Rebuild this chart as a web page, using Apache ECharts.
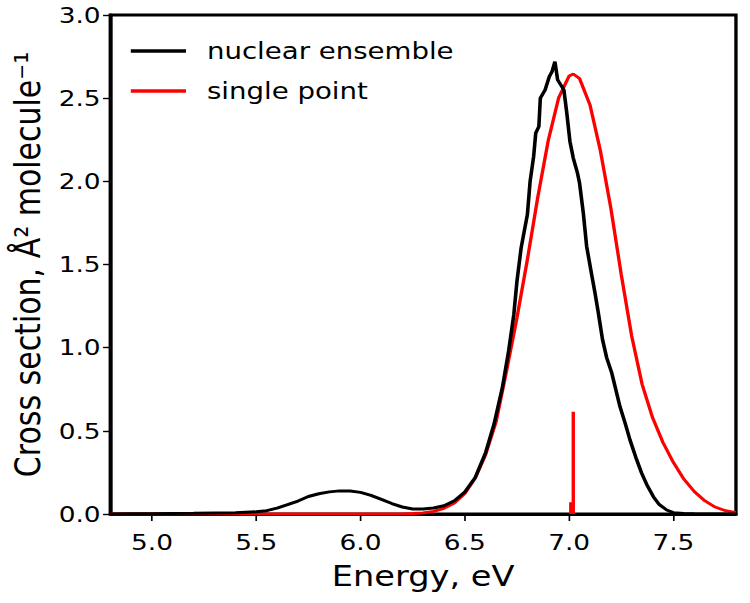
<!DOCTYPE html>
<html>
<head>
<meta charset="utf-8">
<script src="https://cdn.jsdelivr.net/npm/echarts@6/dist/echarts.min.js"></script>
<style>
html,body{margin:0;padding:0;background:#fff;overflow:hidden;}
#wrap{width:750px;height:603px;overflow:hidden;}
#chart{width:625px;height:603px;transform:scaleX(1.2);transform-origin:0 0;}
</style>
</head>
<body>
<div id="wrap"><div id="chart"></div></div>
<script>
// Tick labels
const energyTicks = [5.0, 5.5, 6.0, 6.5, 7.0, 7.5];
const csTicks = [0.0, 0.5, 1.0, 1.5, 2.0, 2.5, 3.0];

// nuclear ensemble spectrum (energy eV, cross section)
const ensembleE = [4.80, 4.90, 5.00, 5.10, 5.20, 5.30, 5.40, 5.50, 5.55, 5.60, 5.65, 5.70, 5.75, 5.80, 5.85, 5.90, 5.95, 6.00, 6.05, 6.10, 6.15, 6.20, 6.25, 6.30, 6.35, 6.40, 6.45, 6.50, 6.55, 6.60, 6.64, 6.68, 6.71, 6.735, 6.75, 6.77, 6.80, 6.813, 6.83, 6.84, 6.855, 6.862, 6.885, 6.905, 6.918, 6.932, 6.945, 6.96, 6.975, 6.988, 7.004, 7.02, 7.04, 7.05, 7.068, 7.084, 7.108, 7.124, 7.14, 7.16, 7.18, 7.204, 7.244, 7.27, 7.292, 7.32, 7.348, 7.375, 7.404, 7.43, 7.468, 7.50, 7.55, 7.60, 7.70, 7.80];
const ensembleCS = [0.000, 0.001, 0.002, 0.003, 0.004, 0.006, 0.008, 0.013, 0.020, 0.035, 0.056, 0.078, 0.105, 0.122, 0.133, 0.139, 0.138, 0.130, 0.112, 0.088, 0.063, 0.042, 0.030, 0.030, 0.036, 0.050, 0.080, 0.132, 0.220, 0.370, 0.540, 0.760, 0.980, 1.200, 1.400, 1.600, 1.800, 2.000, 2.150, 2.290, 2.330, 2.500, 2.550, 2.630, 2.660, 2.720, 2.610, 2.580, 2.550, 2.420, 2.240, 2.140, 2.050, 1.990, 1.810, 1.610, 1.440, 1.330, 1.210, 1.050, 0.940, 0.850, 0.645, 0.540, 0.445, 0.340, 0.245, 0.170, 0.104, 0.060, 0.024, 0.008, 0.003, 0.001, 0.000, 0.000];

// single point spectrum
const pointE = [4.80, 5.50, 6.00, 6.20, 6.25, 6.30, 6.35, 6.40, 6.45, 6.50, 6.55, 6.60, 6.65, 6.70, 6.75, 6.80, 6.85, 6.90, 6.95, 7.00, 7.02, 7.05, 7.10, 7.15, 7.20, 7.25, 7.30, 7.35, 7.40, 7.45, 7.50, 7.55, 7.60, 7.65, 7.70, 7.75, 7.80];
const pointCS = [0, 0, 0, 0.001, 0.003, 0.007, 0.016, 0.034, 0.066, 0.123, 0.216, 0.358, 0.555, 0.860, 1.180, 1.530, 1.906, 2.246, 2.502, 2.633, 2.645, 2.618, 2.460, 2.184, 1.840, 1.440, 1.070, 0.780, 0.580, 0.430, 0.310, 0.210, 0.135, 0.080, 0.042, 0.020, 0.008];

// single point stick transitions
const stickE = [7.008, 7.020];
const stickCS = [0.07, 0.615];

const FONT = 'DejaVu Sans';
const toPairs = (xs, ys) => xs.map((x, i) => [x, ys[i]]);

const stickSeries = stickE.map((e, i) => ({
  type: 'line',
  name: 'stick' + i,
  data: [[e, 0], [e, stickCS[i]]],
  showSymbol: false,
  symbol: 'none',
  lineStyle: { color: '#ff0000', width: 2.8 },
  z: 3,
  silent: true
}));

const chart = echarts.init(document.getElementById('chart'), null, { renderer: 'svg' });
chart.setOption({
  animation: false,
  backgroundColor: '#fff',
  grid: {
    left: 91.7, right: 11.7, top: 15, bottom: 89,
    show: true, borderColor: '#000', borderWidth: 2.8, backgroundColor: 'transparent'
  },
  legend: {
    data: ['nuclear ensemble', 'single point'],
    orient: 'vertical',
    left: 104, top: 33,
    icon: 'rect',
    itemWidth: 46, itemHeight: 3.5, itemGap: 14,
    itemStyle: { borderWidth: 0 },
    textStyle: { fontFamily: FONT, fontSize: 23, color: '#000', lineHeight: 26, padding: [0, 0, 0, 12.5] }
  },
  xAxis: {
    type: 'value', min: 4.8, max: 7.8,
    name: 'Energy, eV', nameLocation: 'middle', nameGap: 48,
    nameTextStyle: { fontFamily: FONT, fontSize: 28, color: '#000' },
    axisLine: { show: true, onZero: false, lineStyle: { color: '#000', width: 2.8 } },
    axisTick: { show: true, length: 7, customValues: energyTicks, lineStyle: { color: '#000', width: 1.4 } },
    axisLabel: { customValues: energyTicks, margin: 17, fontFamily: FONT, fontSize: 22, color: '#000', formatter: v => v.toFixed(1) },
    splitLine: { show: false }
  },
  yAxis: {
    type: 'value', min: 0, max: 3.0, interval: 0.5,
    name: 'Cross section, Å² molecule⁻¹', nameLocation: 'middle', nameGap: 51,
    nameTextStyle: { fontFamily: FONT, fontSize: 30, color: '#000' },
    axisLine: { show: true, lineStyle: { color: '#000', width: 2.8 } },
    axisTick: { show: true, length: 6, customValues: csTicks, lineStyle: { color: '#000', width: 1.4 } },
    axisLabel: { customValues: csTicks, margin: 8, fontFamily: FONT, fontSize: 22, color: '#000', formatter: v => v.toFixed(1) },
    splitLine: { show: false }
  },
  series: [
    {
      type: 'line', name: 'single point',
      data: toPairs(pointE, pointCS),
      showSymbol: false, symbol: 'none',
      lineStyle: { color: '#ff0000', width: 2.8 },
      itemStyle: { color: '#ff0000' },
      z: 2
    },
    ...stickSeries,
    {
      type: 'line', name: 'nuclear ensemble',
      data: toPairs(ensembleE, ensembleCS),
      showSymbol: false, symbol: 'none',
      lineStyle: { color: '#000', width: 3 },
      itemStyle: { color: '#000' },
      z: 4
    }
  ]
});
</script>
</body>
</html>
